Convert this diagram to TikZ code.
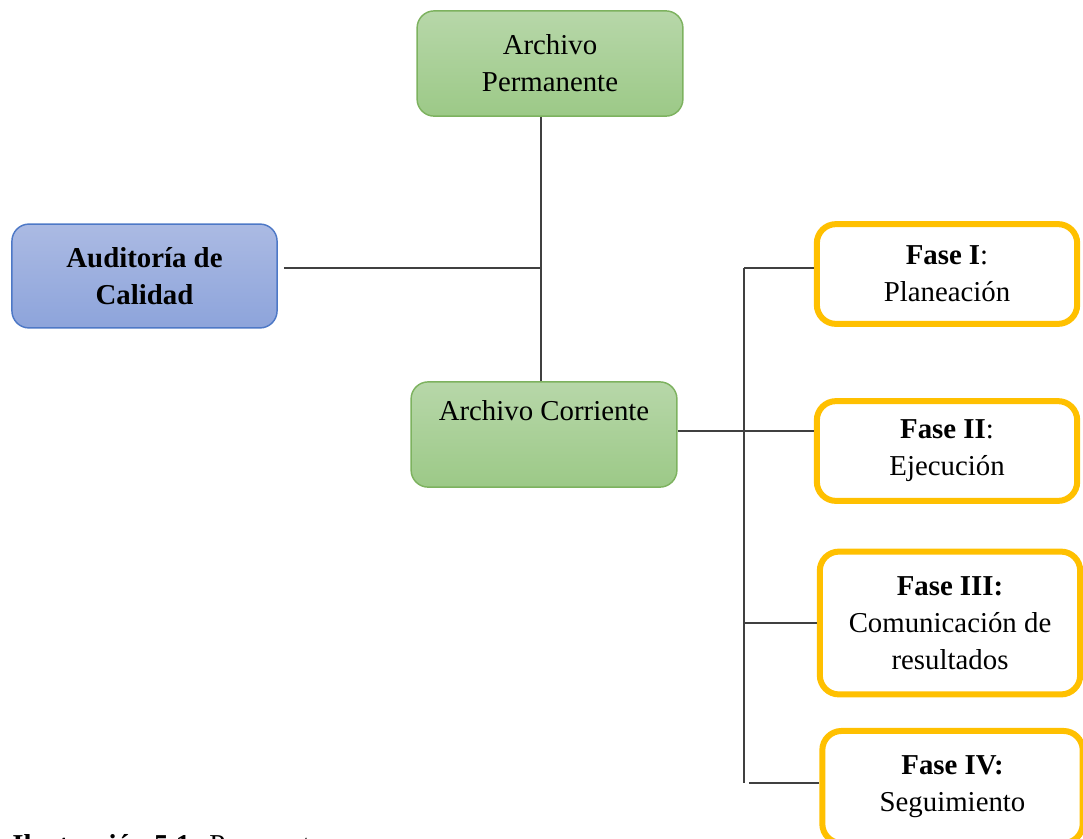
\documentclass[tikz,border=0pt]{standalone}
\usepackage{fontspec}
\setmainfont{Liberation Serif}
\usetikzlibrary{positioning}

\definecolor{grnline}{HTML}{7DB25F}
\definecolor{grntop}{HTML}{B7D7A9}
\definecolor{grnbot}{HTML}{9CC987}
\definecolor{bluline}{HTML}{4D78C6}
\definecolor{blutop}{HTML}{ABBAE3}
\definecolor{blubot}{HTML}{8DA4DB}
\definecolor{faseyel}{HTML}{FFC000}
\definecolor{linegray}{HTML}{404040}

\begin{document}
\begin{tikzpicture}[
    x=0.01464cm, y=-0.01464cm,
    font=\fontsize{12}{15.5}\selectfont,
    greenbox/.style={rectangle, draw=grnline, rounded corners=0.25cm, line width=0.6pt,
                top color=grntop, bottom color=grnbot,
                minimum width=3.89cm, minimum height=1.54cm, align=center},
    bluebox/.style={rectangle, draw=bluline, rounded corners=0.25cm, line width=0.6pt,
                top color=blutop, bottom color=blubot,
                minimum width=3.88cm, minimum height=1.52cm, align=center},
    fasebox/.style={rectangle, draw=faseyel, rounded corners=0.28cm, line width=2.5pt,
                fill=white, minimum width=3.81cm, minimum height=#1, align=center},
    fasebox/.default=1.46cm,
    conn/.style={draw=linegray, line width=0.6pt}
]
\useasboundingbox (0,0) rectangle (1083,838);

\node[greenbox] (perm) at (550, 63.5) {Archivo\\Permanente};
\node[bluebox] (aud) at (144.5, 276) {\textbf{Auditoría de}\\\textbf{Calidad}};
\node[greenbox] (corr) at (544, 434.5) {Archivo Corriente\\\strut};

\node[fasebox] (f1) at (947, 274) {\textbf{Fase I}:\\Planeación};
\node[fasebox] (f2) at (947, 451) {\textbf{Fase II}:\\Ejecución};
\node[fasebox=2.09cm] (f3) at (950, 623) {\textbf{Fase III:}\\Comunicación de\\resultados};
\node[fasebox=1.64cm] (f4) at (952.5, 787) {\textbf{Fase IV:}\\Seguimiento};

\node[anchor=base west, inner sep=0pt] (cap) at (12, 854) {\textbf{Ilustración 5.1:} Propuesta};

% puntos de union
\coordinate (jn) at (541, 268);
\coordinate (b1) at (744, 268);
\coordinate (b2) at (744, 431);
\coordinate (b3) at (744, 623);
\coordinate (b4) at (744, 783);

\draw[conn] (jn |- perm.south) -- (jn |- corr.north);
\draw[conn, shorten <=0.09cm] (aud.east |- jn) -- (jn);
\draw[conn] (b1) -- (b4);
\draw[conn] (b1) -- (b1 -| f1.west);
\draw[conn] (corr.east |- b2) -- (b2 -| f2.west);
\draw[conn] (b3) -- (b3 -| f3.west);
\draw[conn, shorten <=0.07cm] (b4) -- (b4 -| f4.west);
\end{tikzpicture}
\end{document}
